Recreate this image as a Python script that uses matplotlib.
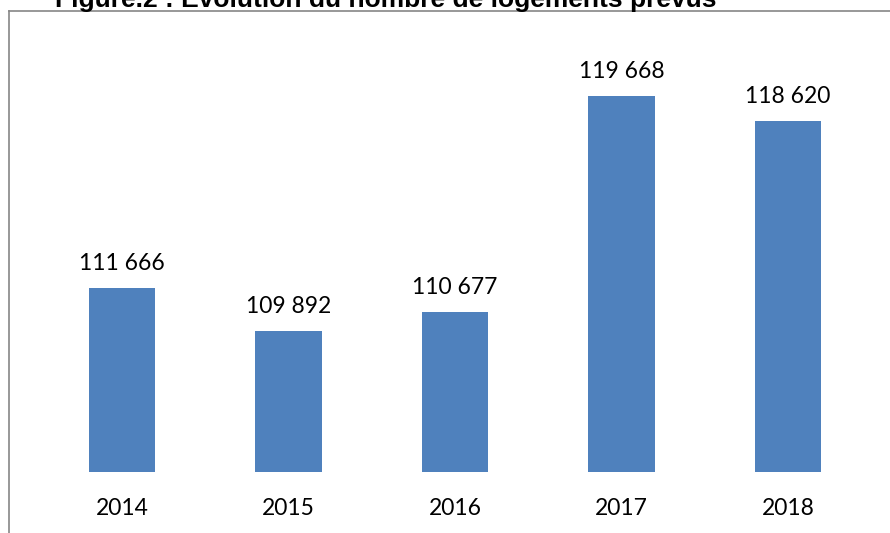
import matplotlib.pyplot as plt
from matplotlib.lines import Line2D

years = ['2014', '2015', '2016', '2017', '2018']
logements = [111666, 109892, 110677, 119668, 118620]
labels = ['111 666', '109 892', '110 677', '119 668', '118 620']

W, H = 890, 533
fig = plt.figure(figsize=(W / 100, H / 100), dpi=100)

# plot area in pixel terms: bars sit on y=472, categories 166.5 px apart
left, right, top, bottom = 38.75, 871.25, 40, 472
ax = fig.add_axes([left / W, 1 - bottom / H, (right - left) / W, (bottom - top) / H])

x = range(len(years))
ax.bar(x, logements, width=0.4, color='#4F81BD', bottom=0)
ax.set_ylim(104000, 122000)
ax.set_xlim(-0.5, 4.5)

for i, (v, t) in enumerate(zip(logements, labels)):
    ax.annotate(t, (i, v), xytext=(0, 10), textcoords='offset points',
                ha='center', va='bottom', fontsize=16.5, family='Lato', color='black')

ax.set_xticks(list(x))
ax.set_xticklabels(years, fontsize=16.5, family='Lato')
ax.tick_params(axis='x', length=0, pad=19)
ax.set_yticks([])
for s in ax.spines.values():
    s.set_visible(False)

# chart frame (top and left edges)
fig.add_artist(Line2D([9 / W, 9 / W], [0, 1 - 11 / H], color='#868686', lw=1.2))
fig.add_artist(Line2D([9 / W, 1], [1 - 11 / H, 1 - 11 / H], color='#868686', lw=1.2))

fig.text(55 / W, 1 - 7 / H, 'Figure.2 : Evolution du nombre de logements prévus',
         ha='left', va='baseline', fontsize=19, fontweight='bold',
         family='Liberation Sans', color='black')

fig.savefig('out.png', dpi=100)
